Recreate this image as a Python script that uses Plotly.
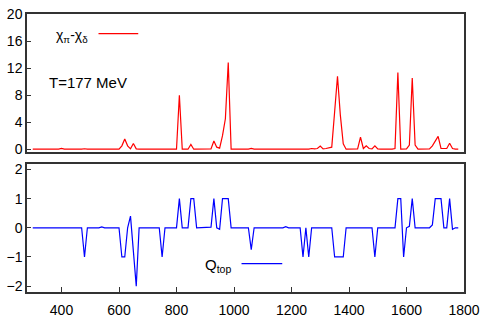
import plotly.graph_objects as go

# top panel: chi_pi - chi_delta
chi_x = [300, 390, 400, 410, 470, 480, 490, 600, 610, 620, 630, 640, 650, 660, 670,
         790, 800, 810, 820, 840, 850, 860, 910, 920, 930, 940, 950, 960, 970, 980, 990,
         1050, 1060, 1070, 1260, 1270, 1280, 1290, 1300, 1310, 1320, 1330, 1340, 1350,
         1360, 1370, 1380, 1390, 1420, 1430, 1440, 1450, 1460, 1470, 1480, 1490, 1500,
         1510, 1550, 1560, 1570, 1580, 1600, 1610, 1620, 1630, 1640, 1680, 1690, 1700,
         1710, 1720, 1740, 1750, 1760, 1770, 1780]
chi_y = [0, 0, 0.12, 0, 0, 0.06, 0, 0, 0.5, 1.5, 0.5, 0.05, 0.85, 0.05, 0,
         0, 0, 8.0, 0, 0, 0.7, 0, 0, 0.05, 1.2, 0.3, 0.15, 2.0, 4.5, 12.85, 0,
         0, 0.12, 0, 0, 0.1, 0.05, 0.1, 0.45, 0.05, 0.1, 0.15, 0.3, 5.5,
         10.8, 5.0, 0.8, 0, 0, 0.05, 1.8, 0.1, 0.5, 0.1, 0.05, 0.5, 0.05,
         0, 0, 0.1, 11.35, 0, 0.05, 0.6, 10.55, 0.6, 0, 0.05, 0.5, 1.2,
         1.9, 0.1, 0.1, 0.87, 0.1, 0.02, 0.02]

# bottom panel: Q_top
q_x = [300, 470, 480, 490, 530, 540, 550, 600, 610, 620, 630, 640, 650, 660, 670,
       740, 750, 760, 800, 810, 820, 840, 850, 860, 870, 910, 920, 930, 940, 950, 960,
       970, 980, 990, 1050, 1060, 1070, 1170, 1180, 1190, 1230, 1240, 1250, 1260, 1270,
       1340, 1350, 1360, 1370, 1380, 1390, 1480, 1490, 1500, 1560, 1570, 1580, 1590,
       1600, 1610, 1620, 1630, 1680, 1690, 1700, 1710, 1720, 1730, 1740, 1750, 1760,
       1770, 1780]
q_y = [0, 0, -1, 0, 0, 0.03, 0, 0, -1, -1, 0, 0.4, -0.8, -2, 0,
       0, -1, 0, 0, 1, 0, 0, 1, 1, 0, 0, 0.02, 1, 0, -0.05, 1,
       1, 1, 0, 0, -0.75, 0, 0, 0.04, 0, 0, -1, 0, -1, 0,
       0, -1, -1, -1, -1, 0, 0, -1, 0, 0, 1, 1, -1,
       0, 0.05, 1, 0, 0, 0.1, 1, 1, 1, 0, 0, 1, -0.05,
       0, 0]

top_yticks = [0, 4, 8, 12, 16, 20]
bot_yticks = [-2, -1, 0, 1, 2]
xticks = [400, 600, 800, 1000, 1200, 1400, 1600, 1800]

FONT = "Liberation Sans, Arial, Helvetica, sans-serif"
FRAME = "#333333"

fig = go.Figure()
fig.add_trace(go.Scatter(x=chi_x, y=chi_y, mode="lines", line=dict(color="#ff0000", width=1.2),
                         xaxis="x", yaxis="y", showlegend=False))
fig.add_trace(go.Scatter(x=q_x, y=q_y, mode="lines", line=dict(color="#0000ff", width=1.2),
                         xaxis="x2", yaxis="y2", showlegend=False))

axcommon = dict(showline=True, linecolor=FRAME, linewidth=1.5, mirror=True,
                showgrid=False, zeroline=False,
                tickfont=dict(family=FONT, size=14, color="#000"))

fig.update_layout(
    width=486, height=324,
    margin=dict(l=27, r=19, t=6, b=21),
    paper_bgcolor="white", plot_bgcolor="white",
    xaxis=dict(domain=[0, 1], range=[280, 1800], anchor="y", showticklabels=False,
               ticks="", **axcommon),
    yaxis=dict(domain=[0.504, 1], range=[-0.4, 20.02], anchor="x", tickvals=top_yticks,
               ticks="inside", ticklen=4, tickcolor=FRAME, tickwidth=1.2, **axcommon),
    xaxis2=dict(domain=[0, 1], range=[280, 1800], anchor="y2", tickvals=xticks,
                ticks="inside", ticklen=5, tickcolor=FRAME, tickwidth=1.2,
                ticklabelstandoff=4, **axcommon),
    yaxis2=dict(domain=[0, 0.462], range=[-2.2, 2.2], anchor="x2", tickvals=bot_yticks,
                ticks="inside", ticklen=4, tickcolor=FRAME, tickwidth=1.2, **axcommon),
)

fig.add_annotation(xref="paper", yref="paper", x=(54 - 27) / 440, y=(303.3 - 29) / 297.3,
                   text="χ<sub>π</sub>-χ<sub>δ</sub>", showarrow=False, xanchor="left",
                   yanchor="middle", font=dict(family=FONT, size=14, color="#000"))
fig.add_shape(type="line", xref="paper", yref="paper", x0=(99 - 27) / 440, x1=(139 - 27) / 440,
              y0=(303.3 - 27) / 297.3, y1=(303.3 - 27) / 297.3,
              line=dict(color="#ff0000", width=1.2))
fig.add_annotation(xref="paper", yref="paper", x=(47 - 27) / 440, y=(303.3 - 79) / 297.3,
                   text="T=177 MeV", showarrow=False, xanchor="left", yanchor="middle",
                   font=dict(family=FONT, size=15, color="#000"))
fig.add_annotation(xref="paper", yref="paper", x=(204 - 27) / 440, y=(303.3 - 275) / 297.3,
                   text="Q<sub>top</sub>", showarrow=False, xanchor="left", yanchor="middle",
                   font=dict(family=FONT, size=15, color="#000"))
fig.add_shape(type="line", xref="paper", yref="paper", x0=(243 - 27) / 440, x1=(284 - 27) / 440,
              y0=(303.3 - 273) / 297.3, y1=(303.3 - 273) / 297.3,
              line=dict(color="#0000ff", width=1.2))

fig.write_html("out.html", config={"displayModeBar": False},
               post_script="document.body.style.margin='0';document.body.style.overflow='hidden';")
